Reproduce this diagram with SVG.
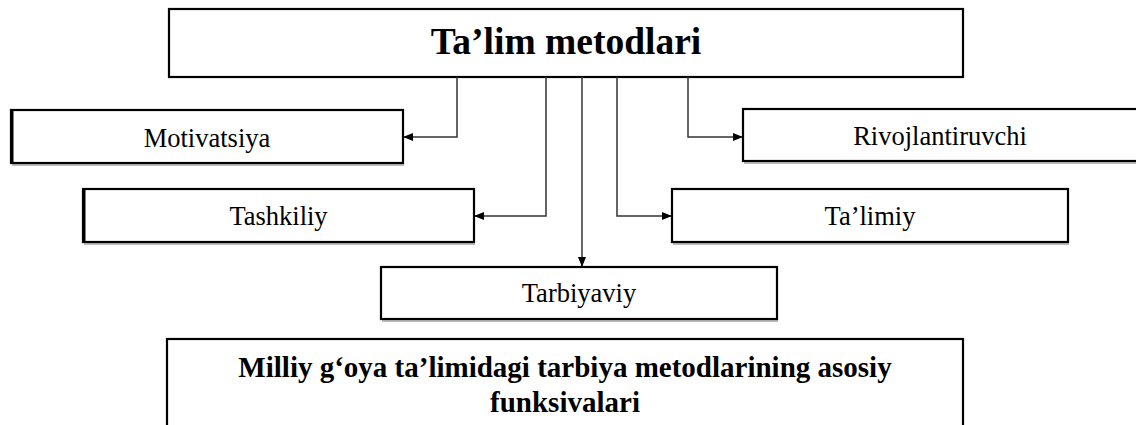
<svg xmlns="http://www.w3.org/2000/svg" width="1136" height="425" viewBox="0 0 1136 425">
<style>
.box{fill:#fff;stroke:#000;stroke-width:2.2}
.shadow{fill:none;stroke:#bbb;stroke-width:2}
.lbl{font-family:"Liberation Serif","Times New Roman",serif;font-size:26.5px;fill:#000;text-anchor:middle}
.bold{font-family:"Liberation Serif","Times New Roman",serif;font-weight:bold;fill:#000;text-anchor:middle}
.conn{fill:none;stroke:#333;stroke-width:1.5}
</style>
<defs>
<marker id="ah" markerWidth="10" markerHeight="8" refX="9" refY="4" orient="auto" markerUnits="userSpaceOnUse">
<path d="M0,0 L10,4 L0,8 Z" fill="#000"/>
</marker>
</defs>
<rect width="1136" height="425" fill="#fff"/>
<g id="title">
<rect class="box" x="169" y="9" width="794" height="68"/>
<text class="bold" x="566" y="54" font-size="37.5">Ta’lim metodlari</text>
</g>
<g id="motivatsiya">
<line class="shadow" x1="12" y1="165" x2="404" y2="165"/>
<rect class="box" x="11" y="110" width="392" height="53"/>
<line x1="12.5" y1="110" x2="12.5" y2="163" stroke="#000" stroke-width="2"/>
<text class="lbl" x="207" y="147">Motivatsiya</text>
</g>
<g id="rivojlantiruvchi">
<line class="shadow" x1="744" y1="163" x2="1136" y2="163"/>
<rect class="box" x="743" y="109" width="400" height="52"/>
<text class="lbl" x="940" y="145">Rivojlantiruvchi</text>
</g>
<g id="tashkiliy">
<line class="shadow" x1="84" y1="244" x2="475" y2="244"/>
<rect class="box" x="83" y="189" width="391" height="53"/>
<line x1="84.5" y1="189" x2="84.5" y2="242" stroke="#000" stroke-width="2"/>
<text class="lbl" x="278.5" y="225">Tashkiliy</text>
</g>
<g id="talimiy">
<line class="shadow" x1="673" y1="244" x2="1069" y2="244"/>
<rect class="box" x="672" y="189" width="396" height="53"/>
<text class="lbl" x="870" y="225">Ta’limiy</text>
</g>
<g id="tarbiyaviy">
<line class="shadow" x1="382" y1="321" x2="778" y2="321"/>
<rect class="box" x="381" y="267" width="396" height="52"/>
<text class="lbl" x="579" y="302">Tarbiyaviy</text>
</g>
<g id="funksiyalar">
<rect class="box" x="167" y="339" width="796" height="90"/>
<text class="bold" x="565" y="377" font-size="29">Milliy g‘oya ta’limidagi tarbiya metodlarining asosiy</text>
<text class="bold" x="565" y="412" font-size="29">funksivalari</text>
</g>
<g id="connectors">
<polyline class="conn" points="457,77 457,137 404,137" marker-end="url(#ah)"/>
<polyline class="conn" points="546,77 546,216 475,216" marker-end="url(#ah)"/>
<polyline class="conn" points="582,77 582,266" marker-end="url(#ah)"/>
<polyline class="conn" points="617,77 617,216 671,216" marker-end="url(#ah)"/>
<polyline class="conn" points="688,77 688,137 742,137" marker-end="url(#ah)"/>
</g>
</svg>
